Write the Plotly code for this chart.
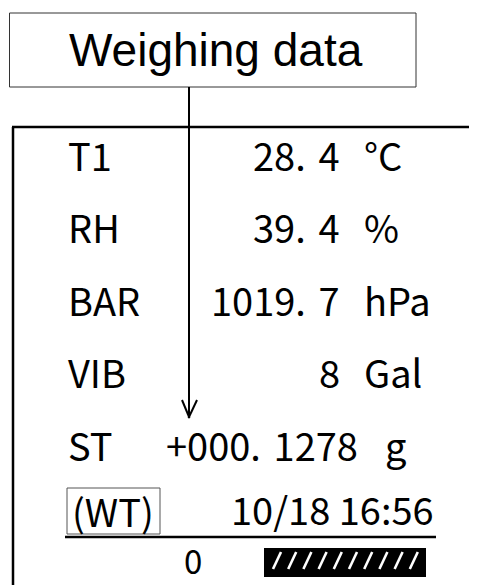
import plotly.graph_objects as go

# Readings shown on the printout
labels = ["T1", "RH", "BAR", "VIB", "ST"]
values = ["28.\u20044", "39.\u20044", "1019.\u20047", "8", "+000.\u20041278"]
units = ["°C", "%", "hPa", "Gal", "g"]
title = "Weighing data"
mode_tag = "(WT)"
stamp = "10/18 16:56"
counter = "0"
n_slashes = 10

W, H = 477, 585
PAD = 8  # page body margin, the plot div starts 8px in
FONT = "Noto Sans CJK JP"
FS = 38

fig = go.Figure()
shapes = []
ann = []

line = dict(color="black", width=2.5)

# title box + text
shapes.append(dict(type="rect", x0=9.5, y0=13, x1=416, y1=87, line=dict(color="#333", width=1)))
ann.append(dict(x=216, y=50, text=title, font=dict(family="Liberation Sans, Arial", size=46, color="black")))

# frame
shapes.append(dict(type="line", x0=12, y0=127, x1=W, y1=127, line=line))
shapes.append(dict(type="line", x0=13, y0=127, x1=13, y1=H, line=line))

# arrow from title down to ST value
shapes.append(dict(type="line", x0=189, y0=87, x1=189, y1=417, line=dict(color="black", width=2)))
shapes.append(dict(type="line", x0=182, y0=400, x1=189.5, y1=418, line=dict(color="black", width=2)))
shapes.append(dict(type="line", x0=197, y0=400, x1=188.5, y1=418, line=dict(color="black", width=2)))

# rows
for i, (lab, val, unit) in enumerate(zip(labels, values, units)):
    y = 154 + i * 72.5
    last = i == len(labels) - 1
    vx = 360 if last else 342
    ux = 383 if last else 362
    f = dict(family=FONT, size=FS, color="black")
    ann.append(dict(x=66, y=y, text=lab, xanchor="left", font=f))
    ann.append(dict(x=vx, y=y, text=val, xanchor="right", font=f))
    ann.append(dict(x=ux, y=y, text=unit, xanchor="left", font=f))

# status line
f = dict(family=FONT, size=FS, color="black")
shapes.append(dict(type="rect", x0=67, y0=488, x1=160, y1=534, line=dict(color="#555", width=1)))
ann.append(dict(x=113, y=510, text=mode_tag, font=f))
ann.append(dict(x=436, y=508, text=stamp, xanchor="right", font=f))
shapes.append(dict(type="line", x0=65, y0=537, x1=436, y1=537, line=dict(color="black", width=2.5)))

# counter + hatched bar
ann.append(dict(x=193, y=560, text=counter, font=dict(family=FONT, size=33, color="black")))
shapes.append(dict(type="rect", x0=264, y0=548, x1=426, y1=577, fillcolor="black", line=dict(width=0)))
for k in range(n_slashes):
    bx = 273 + k * 15.2
    shapes.append(dict(type="line", x0=bx, y0=569, x1=bx + 8, y1=552, line=dict(color="white", width=2.6)))

for a in ann:
    a.update(xref="x", yref="y", showarrow=False)
    a.setdefault("xanchor", "center")
    a.setdefault("yanchor", "middle")
for s in shapes:
    s.update(xref="x", yref="y")

fig.update_layout(
    width=W - PAD, height=H - PAD,
    margin=dict(l=0, r=0, t=0, b=0),
    paper_bgcolor="white", plot_bgcolor="white",
    xaxis=dict(range=[PAD, W], visible=False, fixedrange=True),
    yaxis=dict(range=[H, PAD], visible=False, fixedrange=True),
    shapes=shapes, annotations=ann,
    showlegend=False,
)

fig.write_html("out.html", config={"displayModeBar": False})
